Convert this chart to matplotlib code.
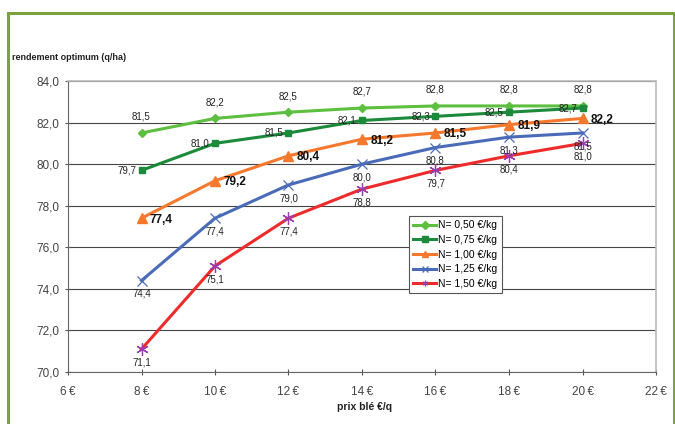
import matplotlib
matplotlib.use("Agg")
import matplotlib.pyplot as plt
from matplotlib.patches import Rectangle

plt.rcParams['font.family'] = ['Liberation Sans', 'DejaVu Sans']

prix = [8, 10, 12, 14, 16, 18, 20]
n050 = [81.5, 82.2, 82.5, 82.7, 82.8, 82.8, 82.8]
n075 = [79.7, 81.0, 81.5, 82.1, 82.3, 82.5, 82.7]
n100 = [77.4, 79.2, 80.4, 81.2, 81.5, 81.9, 82.2]
n125 = [74.4, 77.4, 79.0, 80.0, 80.8, 81.3, 81.5]
n150 = [71.1, 75.1, 77.4, 78.8, 79.7, 80.4, 81.0]
labels = ["N= 0,50 €/kg", "N= 0,75 €/kg", "N= 1,00 €/kg", "N= 1,25 €/kg", "N= 1,50 €/kg"]
xticks = [6, 8, 10, 12, 14, 16, 18, 20, 22]
yticks = [70, 72, 74, 76, 78, 80, 82, 84]

fig = plt.figure(figsize=(6.75, 4.24), dpi=100)
fig.patches.append(Rectangle((7.5/675, -0.05), (674-7.5)/675, (424-13.5)/424 + 0.05,
                             transform=fig.transFigure, fill=False, edgecolor='#7BA23F',
                             linewidth=2.2, zorder=0))
ax = fig.add_axes([68/675, (424-372)/424, (656-68)/675, (372-81)/424])

def fmt(v):
    return f"{v:.1f}".replace('.', ',')

ax.plot(prix, n050, color='#5CBF3F', lw=2.2, marker='D', ms=4, zorder=3, label=labels[0])
ax.plot(prix, n075, color='#1B8A3A', lw=2.2, marker='s', ms=5, zorder=3, label=labels[1])
ax.plot(prix, n100, color='#F5782C', lw=2.2, marker='^', ms=7, zorder=3, label=labels[2])
ax.plot(prix, n125, color='#4A6BB8', lw=2.2, marker='x', ms=7, mew=0.9, zorder=3, label=labels[3])
ax.plot(prix, n150, color='#EE2B2B', lw=2.2, marker=(6, 2, 0), ms=9, mec='#9A3CB0',
        mew=0.9, zorder=3, label=labels[4])

for x, v in zip(prix, n050):
    ax.annotate(fmt(v), (x, v), xytext=(0, 8), textcoords='offset points',
                ha='center', va='bottom', fontsize=7, color='#222222')
for x, v in zip(prix, n075):
    ax.annotate(fmt(v), (x, v), xytext=(-4, 0), textcoords='offset points',
                ha='right', va='center', fontsize=7, color='#222222')
for x, v in zip(prix, n100):
    ax.annotate(fmt(v), (x, v), xytext=(6, -1), textcoords='offset points',
                ha='left', va='center', fontsize=8.5, fontweight='bold', color='#111111')
for x, v in zip(prix, n125):
    ax.annotate(fmt(v), (x, v), xytext=(0, -6), textcoords='offset points',
                ha='center', va='top', fontsize=7, color='#222222')
for x, v in zip(prix, n150):
    ax.annotate(fmt(v), (x, v), xytext=(0, -6), textcoords='offset points',
                ha='center', va='top', fontsize=7, color='#222222')

ax.set_xlim(6, 22)
ax.set_ylim(70, 84)
ax.set_xticks(xticks)
ax.set_xticklabels([f"{t}\u2009€" for t in xticks])
ax.set_yticks(yticks)
ax.set_yticklabels([fmt(t) for t in yticks])
ax.tick_params(axis='both', labelsize=8.5, colors='#555555', labelcolor='#444444', length=4, width=0.8)
ax.tick_params(axis='x', direction='inout', pad=8)
ax.tick_params(axis='y', direction='inout', pad=4)
ax.grid(axis='y', color='#444444', lw=0.8, zorder=0)
for s in ['left', 'bottom']:
    ax.spines[s].set_color('#666666')
for s in ['top', 'right']:
    ax.spines[s].set_color('#BBBBBB')
    ax.spines[s].set_linewidth(1.2)

fig.text(12/675, 1 - 57/424, "rendement optimum (q/ha)", fontsize=6.5, fontweight='bold',
         ha='left', va='center', color='#222222')
fig.text(365/675, 1 - 407/424, "prix blé €/q", fontsize=7.5, fontweight='bold',
         ha='center', va='center', color='#222222')

leg = ax.legend(loc='upper left', bbox_to_anchor=((409-68)/588, (372-216)/291),
                fontsize=7.5, frameon=True, fancybox=False, edgecolor='#555555',
                framealpha=1, handlelength=2.2, handletextpad=0.2, borderpad=0.4,
                labelspacing=0.45, borderaxespad=0)
leg.get_frame().set_linewidth(0.8)
for h in leg.legend_handles:
    h.set_markersize(4)

fig.savefig("out.png", dpi=100)
